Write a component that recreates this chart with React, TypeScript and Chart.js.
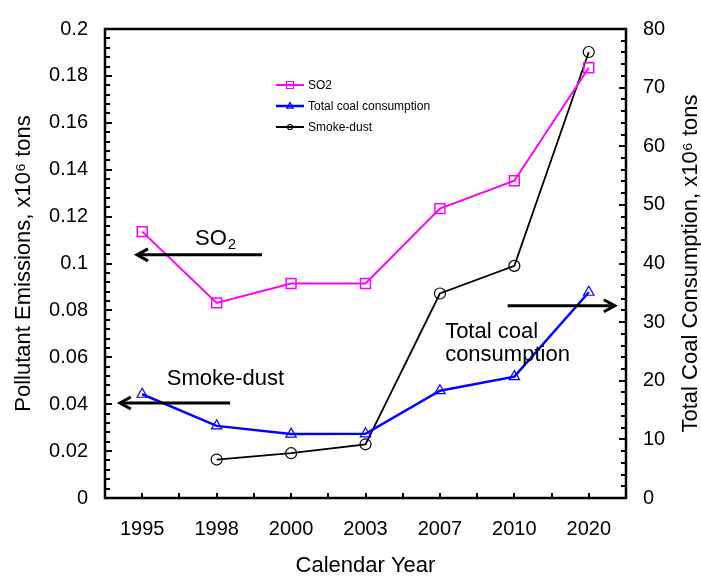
import React, { useEffect, useRef } from "react";
import { Chart, registerables } from "chart.js";

Chart.register(...registerables);

// ---------- data ----------
const years = ["1995", "1998", "2000", "2003", "2007", "2010", "2020"];
const so2Values = [0.1136, 0.0832, 0.0915, 0.0915, 0.1234, 0.1353, 0.1835];
const coalValues = [17.7, 12.3, 10.9, 10.95, 18.3, 20.7, 35.1];
const smokeDustValues = [null, 0.0164, 0.0191, 0.0229, 0.0872, 0.099, 0.1902];
const seriesLabels = ["SO2", "Total coal consumption", "Smoke-dust"];

const leftMin = 0;
const leftMax = 0.2;
const leftMajorStep = 0.02;
const leftMinorStep = 0.004;
const rightMin = 0;
const rightMax = 80;
const rightMajorStep = 10;
const rightMinorStep = 2;

const leftTitle = "Pollutant Emissions, x10\u2076 tons";
const rightTitle = "Total Coal Consumption, x10\u2076 tons";
const xTitle = "Calendar Year";

// annotation arrows / texts in data space (category index, axis value)
const arrowNotes = [
  { axis: "y", value: 0.1037, from: 1.61, to: -0.07 },
  { axis: "y", value: 0.0405, from: 1.18, to: -0.3 },
  { axis: "y1", value: 32.8, from: 4.91, to: 6.35 },
];
const textNotes = [
  { axis: "y", value: 0.1079, at: 0.71, text: "SO", sub: "2" },
  { axis: "y", value: 0.0481, at: 0.33, text: "Smoke-dust", sub: "" },
  { axis: "y1", value: 27.3, at: 4.07, text: "Total coal", sub: "" },
  { axis: "y1", value: 23.3, at: 4.07, text: "consumption", sub: "" },
];

const FONT = '"Liberation Sans", Arial, Helvetica, sans-serif';

function drawMarker(ctx: CanvasRenderingContext2D, style: string, x: number, y: number, r: number) {
  ctx.beginPath();
  if (style === "rect") {
    ctx.rect(x - r, y - r, 2 * r, 2 * r);
  } else if (style === "triangle") {
    ctx.moveTo(x, y - r);
    ctx.lineTo(x + r * 0.95, y + r * 0.6);
    ctx.lineTo(x - r * 0.95, y + r * 0.6);
    ctx.closePath();
  } else {
    ctx.arc(x, y, r, 0, Math.PI * 2);
  }
  ctx.stroke();
}

const decorPlugin = {
  id: "decor",
  afterDraw(chart: any) {
    const { ctx, chartArea: ca, scales } = chart;
    const xs = scales.x;
    const ys = scales.y;
    const y1s = scales.y1;
    ctx.save();
    ctx.strokeStyle = "#000";
    ctx.fillStyle = "#000";
    ctx.lineCap = "butt";

    // frame
    ctx.lineWidth = 2.5;
    ctx.strokeRect(ca.left, ca.top, ca.right - ca.left, ca.bottom - ca.top);

    // left ticks (inward)
    ctx.lineWidth = 2;
    const nl = Math.round((leftMax - leftMin) / leftMinorStep);
    const perL = Math.round(leftMajorStep / leftMinorStep);
    for (let k = 1; k < nl; k++) {
      const py = Math.round(ys.getPixelForValue(leftMin + k * leftMinorStep));
      const len = k % perL === 0 ? 7 : 5;
      ctx.beginPath();
      ctx.moveTo(ca.left, py);
      ctx.lineTo(ca.left + len, py);
      ctx.stroke();
    }
    // right ticks (inward)
    const nr = Math.round((rightMax - rightMin) / rightMinorStep);
    const perR = Math.round(rightMajorStep / rightMinorStep);
    for (let k = 1; k < nr; k++) {
      const py = Math.round(y1s.getPixelForValue(rightMin + k * rightMinorStep));
      const len = k % perR === 0 ? 7 : 5;
      ctx.beginPath();
      ctx.moveTo(ca.right, py);
      ctx.lineTo(ca.right - len, py);
      ctx.stroke();
    }
    // bottom ticks at categories and boundaries (inward)
    for (let i = 0; i < years.length; i++) {
      const centers = [i, i + 0.5];
      for (const c of centers) {
        if (c > years.length - 1 + 0.49) continue;
        const px = Math.round(xs.getPixelForValue(c));
        ctx.beginPath();
        ctx.moveTo(px, ca.bottom);
        ctx.lineTo(px, ca.bottom - 5);
        ctx.stroke();
      }
    }

    // arrows
    ctx.lineWidth = 3;
    for (const a of arrowNotes) {
      const sc = a.axis === "y" ? ys : y1s;
      const py = sc.getPixelForValue(a.value);
      const x0 = xs.getPixelForValue(a.from);
      const x1 = xs.getPixelForValue(a.to);
      const dir = x1 > x0 ? 1 : -1;
      ctx.beginPath();
      ctx.moveTo(x0, py);
      ctx.lineTo(x1 - dir * 1, py);
      ctx.stroke();
      ctx.beginPath();
      ctx.moveTo(x1 - dir * 11, py - 6);
      ctx.lineTo(x1, py);
      ctx.lineTo(x1 - dir * 11, py + 6);
      ctx.stroke();
    }

    // annotation texts
    ctx.textBaseline = "alphabetic";
    ctx.textAlign = "left";
    for (const t of textNotes) {
      const sc = t.axis === "y" ? ys : y1s;
      const py = sc.getPixelForValue(t.value);
      const px = xs.getPixelForValue(t.at);
      ctx.font = `22px ${FONT}`;
      ctx.fillText(t.text, px, py);
      if (t.sub) {
        const w = ctx.measureText(t.text).width;
        ctx.font = `15px ${FONT}`;
        ctx.fillText(t.sub, px + w + 1, py + 4);
      }
    }

    // right axis title, reading bottom-to-top
    ctx.save();
    ctx.translate(chart.width - 10, (ca.top + ca.bottom) / 2);
    ctx.rotate(-Math.PI / 2);
    ctx.font = `22px ${FONT}`;
    ctx.textAlign = "center";
    ctx.textBaseline = "middle";
    ctx.fillText(rightTitle, 0, 0);
    ctx.restore();

    // legend
    const lx = ca.left + 171;
    const ly0 = ca.top + 56;
    const gap = 21;
    chart.data.datasets.forEach((ds: any, i: number) => {
      const ly = ly0 + i * gap;
      ctx.strokeStyle = ds.borderColor;
      ctx.lineWidth = i === 1 ? 2.5 : 2;
      ctx.beginPath();
      ctx.moveTo(lx, ly);
      ctx.lineTo(lx + 28, ly);
      ctx.stroke();
      ctx.lineWidth = 1.2;
      drawMarker(ctx, ds.pointStyle, lx + 14, ly, ds.pointStyle === "circle" ? 2.5 : 3.5);
      ctx.fillStyle = "#000";
      ctx.font = `12px ${FONT}`;
      ctx.textAlign = "left";
      ctx.textBaseline = "middle";
      ctx.fillText(ds.label, lx + 32, ly + 1);
    });

    ctx.restore();
  },
};

export default function App() {
  const canvasRef = useRef<HTMLCanvasElement | null>(null);

  useEffect(() => {
    document.body.style.margin = "0";
    const canvas = canvasRef.current;
    if (!canvas) return;
    const tickFont = { family: FONT, size: 20 };
    const chart = new Chart(canvas, {
      type: "line",
      data: {
        labels: years,
        datasets: [
          {
            label: seriesLabels[0],
            data: so2Values,
            yAxisID: "y",
            borderColor: "#FF00FF",
            borderWidth: 2,
            pointStyle: "rect",
            pointRadius: 7,
            pointBorderWidth: 1.5,
            pointBorderColor: "#FF00FF",
            pointBackgroundColor: "rgba(255,255,255,0)",
            tension: 0,
          },
          {
            label: seriesLabels[1],
            data: coalValues,
            yAxisID: "y1",
            borderColor: "#0000FF",
            borderWidth: 2.5,
            pointStyle: "triangle",
            pointRadius: 6,
            pointBorderWidth: 1.2,
            pointBorderColor: "#0000FF",
            pointBackgroundColor: "rgba(255,255,255,0)",
            tension: 0,
          },
          {
            label: seriesLabels[2],
            data: smokeDustValues,
            yAxisID: "y",
            borderColor: "#000000",
            borderWidth: 1.8,
            pointStyle: "circle",
            pointRadius: 5.5,
            pointBorderWidth: 1.2,
            pointBorderColor: "#000000",
            pointBackgroundColor: "rgba(255,255,255,0)",
            tension: 0,
          },
        ],
      },
      options: {
        responsive: false,
        animation: false,
        layout: { padding: { top: 14, left: 0, right: 0, bottom: 0 } },
        plugins: {
          legend: { display: false },
          tooltip: { enabled: false },
        },
        scales: {
          x: {
            type: "category",
            offset: true,
            grid: { display: false, drawTicks: false },
            border: { display: false },
            ticks: { font: tickFont, color: "#000", padding: 19, maxRotation: 0, autoSkip: false },
            title: {
              display: true,
              text: xTitle,
              font: { family: FONT, size: 22 },
              color: "#000",
              padding: { top: 0, bottom: 1 },
            },
            afterFit: (s: any) => {
              s.height = 82;
            },
          },
          y: {
            type: "linear",
            position: "left",
            min: leftMin,
            max: leftMax,
            grid: { display: false, drawTicks: false },
            border: { display: false },
            ticks: {
              stepSize: leftMajorStep,
              font: tickFont,
              color: "#000",
              padding: 17,
              callback: (v: any) => String(Number(Number(v).toFixed(3))),
            },
            title: {
              display: true,
              text: leftTitle,
              font: { family: FONT, size: 22 },
              color: "#000",
              padding: { top: 11, bottom: 0 },
            },
            afterFit: (s: any) => {
              s.width = 105;
            },
          },
          y1: {
            type: "linear",
            position: "right",
            min: rightMin,
            max: rightMax,
            grid: { display: false, drawTicks: false },
            border: { display: false },
            ticks: {
              stepSize: rightMajorStep,
              font: tickFont,
              color: "#000",
              padding: 17,
            },
            title: { display: false, text: rightTitle },
            afterFit: (s: any) => {
              s.width = 75;
            },
          },
        },
      },
      plugins: [decorPlugin],
    } as any);
    return () => {
      chart.destroy();
    };
  }, []);

  return (
    <div style={{ width: 701, height: 580, background: "#fff" }}>
      <canvas ref={canvasRef} width={701} height={580} style={{ display: "block" }} />
    </div>
  );
}
